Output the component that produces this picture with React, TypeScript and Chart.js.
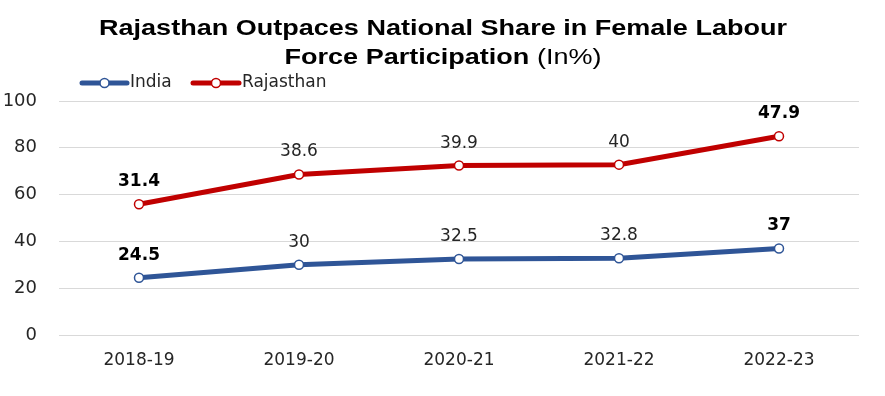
import React, { useEffect, useRef } from "react";
import { Chart, registerables } from "chart.js";

Chart.register(...registerables);

const categories = ["2018-19", "2019-20", "2020-21", "2021-22", "2022-23"];
const indiaValues = [24.5, 30, 32.5, 32.8, 37];
const rajasthanValues = [31.4, 38.6, 39.9, 40, 47.9];
const seriesNames = ["India", "Rajasthan"];
const seriesColors = ["#2F5597", "#C00000"];
const titleLine1 = "Rajasthan Outpaces National Share in Female Labour";
const titleLine2Bold = "Force Participation";
const titleLine2Normal = " (In%)";
const yMin = 0;
const yMax = 100;
const yStep = 20;

const W = 885;
const H = 396;

const titlePlugin = {
  id: "customTitleLegend",
  afterDraw(chart: any) {
    const ctx = chart.ctx;
    ctx.save();
    ctx.fillStyle = "#000000";
    ctx.textBaseline = "alphabetic";
    const boldFont = "bold 22px 'Liberation Sans', Arial, sans-serif";
    const normalFont = "22px 'Liberation Sans', Arial, sans-serif";
    ctx.font = boldFont;
    const w1 = ctx.measureText(titleLine1).width;
    const targetW = 688;
    const sx = targetW / w1;
    const cx = 443;
    // line 1
    ctx.save();
    ctx.translate(cx, 35);
    ctx.scale(sx, 1);
    ctx.textAlign = "center";
    ctx.fillText(titleLine1, 0, 0);
    ctx.restore();
    // line 2
    ctx.font = boldFont;
    const wb = ctx.measureText(titleLine2Bold).width;
    ctx.font = normalFont;
    const wn = ctx.measureText(titleLine2Normal).width;
    const total = (wb + wn) * sx;
    const startX = cx - total / 2;
    ctx.save();
    ctx.translate(startX, 64);
    ctx.scale(sx, 1);
    ctx.textAlign = "left";
    ctx.font = boldFont;
    ctx.fillText(titleLine2Bold, 0, 0);
    ctx.font = normalFont;
    ctx.fillText(titleLine2Normal, wb, 0);
    ctx.restore();

    // legend
    const items = [
      { x0: 82, x1: 127, tx: 130 },
      { x0: 193, x1: 239, tx: 242 },
    ];
    const ly = 83;
    items.forEach((it, i) => {
      ctx.strokeStyle = seriesColors[i];
      ctx.lineWidth = 5;
      ctx.lineCap = "round";
      ctx.beginPath();
      ctx.moveTo(it.x0, ly);
      ctx.lineTo(it.x1, ly);
      ctx.stroke();
      ctx.beginPath();
      ctx.arc((it.x0 + it.x1) / 2, ly, 4.5, 0, Math.PI * 2);
      ctx.fillStyle = "#ffffff";
      ctx.fill();
      ctx.lineWidth = 1.5;
      ctx.stroke();
      ctx.fillStyle = "#262626";
      ctx.font = "17px 'DejaVu Sans', sans-serif";
      ctx.textAlign = "left";
      ctx.textBaseline = "middle";
      ctx.fillText(seriesNames[i], it.tx, ly);
    });
    ctx.restore();
  },
};

const labelPlugin = {
  id: "pointLabels",
  afterDatasetsDraw(chart: any) {
    const ctx = chart.ctx;
    ctx.save();
    ctx.textAlign = "center";
    ctx.textBaseline = "alphabetic";
    chart.data.datasets.forEach((ds: any, di: number) => {
      const meta = chart.getDatasetMeta(di);
      meta.data.forEach((pt: any, i: number) => {
        const bold = i === 0 || i === ds.data.length - 1;
        ctx.font = (bold ? "bold " : "") + "17px 'DejaVu Sans', sans-serif";
        ctx.fillStyle = bold ? "#000000" : "#262626";
        ctx.fillText(String(ds.data[i]), pt.x, pt.y - 18);
      });
    });
    ctx.restore();
  },
};

export default function App() {
  const ref = useRef<HTMLCanvasElement | null>(null);
  useEffect(() => {
    if (!ref.current) return;
    const chart = new Chart(ref.current, {
      type: "line",
      data: {
        labels: categories,
        datasets: [
          {
            label: seriesNames[0],
            data: indiaValues,
            borderColor: seriesColors[0],
            backgroundColor: "#ffffff",
            borderWidth: 5,
            pointRadius: 4.5,
            pointBorderWidth: 1.5,
            pointBackgroundColor: "#ffffff",
            pointBorderColor: seriesColors[0],
            tension: 0,
            fill: false,
          },
          {
            label: seriesNames[1],
            data: rajasthanValues,
            borderColor: seriesColors[1],
            backgroundColor: "#ffffff",
            borderWidth: 5,
            pointRadius: 4.5,
            pointBorderWidth: 1.5,
            pointBackgroundColor: "#ffffff",
            pointBorderColor: seriesColors[1],
            tension: 0,
            fill: false,
          },
        ],
      },
      options: {
        animation: false,
        responsive: false,
        layout: { padding: { top: 101, right: 26, left: 0, bottom: 0 } },
        plugins: {
          legend: { display: false },
          title: { display: false },
          tooltip: { enabled: false },
        },
        scales: {
          x: {
            offset: true,
            grid: { display: false, drawTicks: false },
            border: { display: false },
            ticks: {
              color: "#262626",
              font: { family: "'DejaVu Sans', sans-serif", size: 17 },
              padding: 15,
              maxRotation: 0,
            },
            afterFit(scale: any) {
              scale.height = 61;
            },
          },
          y: {
            stacked: true,
            min: yMin,
            max: yMax,
            grid: { color: "#D9D9D9", lineWidth: 1, drawTicks: false },
            border: { display: false },
            ticks: {
              stepSize: yStep,
              color: "#262626",
              font: { family: "'DejaVu Sans', sans-serif", size: 18 },
              padding: 22,
            },
            afterFit(scale: any) {
              scale.width = 59;
            },
          },
        },
      },
      plugins: [titlePlugin, labelPlugin],
    });
    return () => chart.destroy();
  }, []);
  return (
    <div style={{ position: "fixed", left: 0, top: 0, width: W, height: H, background: "#ffffff" }}>
      <canvas ref={ref} width={W} height={H} style={{ display: "block", width: W, height: H }} />
    </div>
  );
}
